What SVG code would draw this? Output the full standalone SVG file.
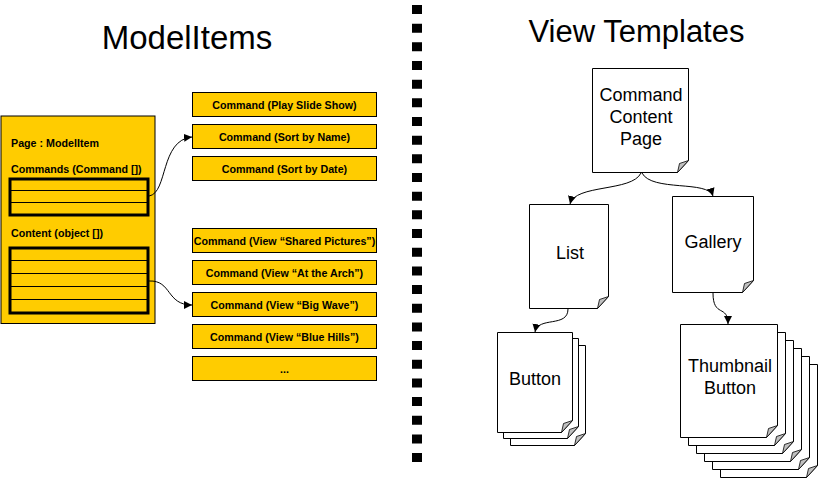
<svg xmlns="http://www.w3.org/2000/svg" width="818" height="478" viewBox="0 0 818 478">
<style>
.title{font-family:"Liberation Sans",Arial,sans-serif;fill:#000}
.lbl{font-family:"Liberation Sans",Arial,sans-serif;font-weight:bold;font-size:10.7px;fill:#000}
.cmd rect{fill:#FFCC00;stroke:#000;stroke-width:1}
.cmd text{font-family:"Liberation Sans",Arial,sans-serif;font-weight:bold;font-size:10.7px;text-anchor:middle;fill:#000}
.page{fill:#fff;stroke:#000;stroke-width:1}
.fold{fill:#c0c0c0;stroke:#000;stroke-width:0.8}
.ptxt{font-family:"Liberation Sans",Arial,sans-serif;font-size:18px;text-anchor:middle;fill:#000}
.conn{fill:none;stroke:#000;stroke-width:1;marker-end:url(#arr)}
.grid{fill:none;stroke:#000;stroke-width:1}
.thick{fill:none;stroke:#000;stroke-width:3}
</style>
<defs>
<marker id="arr" markerUnits="userSpaceOnUse" markerWidth="10" markerHeight="10" refX="8" refY="4" orient="auto">
<path d="M0,0 L8,4 L0,8 Z" fill="#000"/>
</marker>
</defs>
<rect width="818" height="478" fill="#fff"/>

<g id="titles">
<text class="title" x="187" y="49" font-size="33" text-anchor="middle">ModelItems</text>
<text class="title" x="636.5" y="42" font-size="31" text-anchor="middle">View Templates</text>
</g>

<g id="divider">
<line x1="417" y1="5" x2="417" y2="462" stroke="#000" stroke-width="10" stroke-dasharray="9 9.67"/>
</g>

<g id="page-modelitem">
<rect x="1" y="116" width="154" height="207.5" fill="#FFCC00" stroke="#000" stroke-width="1"/>
<text class="lbl" x="11" y="147">Page : ModelItem</text>
<text class="lbl" x="11" y="173">Commands (Command [])</text>
<rect class="thick" x="10" y="179" width="138" height="36"/>
<line class="grid" x1="10" y1="190.5" x2="148" y2="190.5"/>
<line class="grid" x1="10" y1="202.5" x2="148" y2="202.5"/>
<text class="lbl" x="11" y="237">Content (object [])</text>
<rect class="thick" x="10" y="248" width="138" height="65"/>
<line class="grid" x1="10" y1="260.5" x2="148" y2="260.5"/>
<line class="grid" x1="10" y1="273.5" x2="148" y2="273.5"/>
<line class="grid" x1="10" y1="286.5" x2="148" y2="286.5"/>
<line class="grid" x1="10" y1="299.5" x2="148" y2="299.5"/>
</g>

<g id="cmd-play" class="cmd"><rect x="192.5" y="92.5" width="184" height="24"/><text x="284.5" y="108.5">Command (Play Slide Show)</text></g>
<g id="cmd-sortname" class="cmd"><rect x="192.5" y="124.5" width="184" height="24"/><text x="284.5" y="140.5">Command (Sort by Name)</text></g>
<g id="cmd-sortdate" class="cmd"><rect x="192.5" y="156.5" width="184" height="24"/><text x="284.5" y="172.5">Command (Sort by Date)</text></g>
<g id="cmd-shared" class="cmd"><rect x="192.5" y="228.5" width="184" height="24"/><text x="284.5" y="244.5">Command (View “Shared Pictures”)</text></g>
<g id="cmd-arch" class="cmd"><rect x="192.5" y="260.5" width="184" height="24"/><text x="284.5" y="276.5">Command (View “At the Arch”)</text></g>
<g id="cmd-wave" class="cmd"><rect x="192.5" y="292.5" width="184" height="24"/><text x="284.5" y="308.5">Command (View “Big Wave”)</text></g>
<g id="cmd-hills" class="cmd"><rect x="192.5" y="324.5" width="184" height="24"/><text x="284.5" y="340.5">Command (View “Blue Hills”)</text></g>
<g id="cmd-more" class="cmd"><rect x="192.5" y="356.5" width="184" height="24"/><text x="284.5" y="372.5">...</text></g>

<g id="tpl-page">
<path class="page" d="M592.5,68.5 H688.5 V160.5 L677.5,172.5 H592.5 Z"/>
<path class="fold" d="M677.5,172.5 L688.5,160.5 L679.5,163.5 Z"/>
<text class="ptxt" x="641" y="101">Command</text>
<text class="ptxt" x="641" y="123">Content</text>
<text class="ptxt" x="641" y="145">Page</text>
</g>

<g id="tpl-list">
<path class="page" d="M529.5,204.5 H608.5 V296.5 L597.5,308.5 H529.5 Z"/>
<path class="fold" d="M597.5,308.5 L608.5,296.5 L599.5,299.5 Z"/>
<text class="ptxt" x="570" y="259">List</text>
</g>

<g id="tpl-gallery">
<path class="page" d="M672.5,196.5 H753.5 V280.5 L742.5,292.5 H672.5 Z"/>
<path class="fold" d="M742.5,292.5 L753.5,280.5 L744.5,283.5 Z"/>
<text class="ptxt" x="713" y="248">Gallery</text>
</g>

<g id="tpl-button">
<path class="page" d="M510.5,345.5 H585.5 V433.5 L574.5,445.5 H510.5 Z"/>
<path class="fold" d="M574.5,445.5 L585.5,433.5 L576.5,436.5 Z"/>
<path class="page" d="M503.5,338.5 H578.5 V426.5 L567.5,438.5 H503.5 Z"/>
<path class="fold" d="M567.5,438.5 L578.5,426.5 L569.5,429.5 Z"/>
<path class="page" d="M497.5,332.5 H572.5 V420.5 L561.5,432.5 H497.5 Z"/>
<path class="fold" d="M561.5,432.5 L572.5,420.5 L563.5,423.5 Z"/>
<text class="ptxt" x="535" y="385">Button</text>
</g>

<g id="tpl-thumb">
<path class="page" d="M720.5,364.5 H817.5 V465.5 L806.5,477.5 H720.5 Z"/>
<path class="fold" d="M806.5,477.5 L817.5,465.5 L808.5,468.5 Z"/>
<path class="page" d="M712.5,356.5 H809.5 V457.5 L798.5,469.5 H712.5 Z"/>
<path class="fold" d="M798.5,469.5 L809.5,457.5 L800.5,460.5 Z"/>
<path class="page" d="M704.5,348.5 H801.5 V449.5 L790.5,461.5 H704.5 Z"/>
<path class="fold" d="M790.5,461.5 L801.5,449.5 L792.5,452.5 Z"/>
<path class="page" d="M696.5,340.5 H793.5 V441.5 L782.5,453.5 H696.5 Z"/>
<path class="fold" d="M782.5,453.5 L793.5,441.5 L784.5,444.5 Z"/>
<path class="page" d="M688.5,332.5 H785.5 V433.5 L774.5,445.5 H688.5 Z"/>
<path class="fold" d="M774.5,445.5 L785.5,433.5 L776.5,436.5 Z"/>
<path class="page" d="M680.5,324.5 H777.5 V425.5 L766.5,437.5 H680.5 Z"/>
<path class="fold" d="M766.5,437.5 L777.5,425.5 L768.5,428.5 Z"/>
<text class="ptxt" x="730" y="372">Thumbnail</text>
<text class="ptxt" x="730" y="394">Button</text>
</g>

<g id="connectors">
<path class="conn" d="M149,196 C168,193 160,140 192,137"/>
<path class="conn" d="M149,281 C172,280 166,305 192,305"/>
<path class="conn" d="M641,173 C632,192 575,184 570,204"/>
<path class="conn" d="M642,173 C652,192 708,180 713,196"/>
<path class="conn" d="M568,309 C568,328 538,316 535,332"/>
<path class="conn" d="M713,293 C713,318 728,304 728,324"/>
</g>
</svg>
